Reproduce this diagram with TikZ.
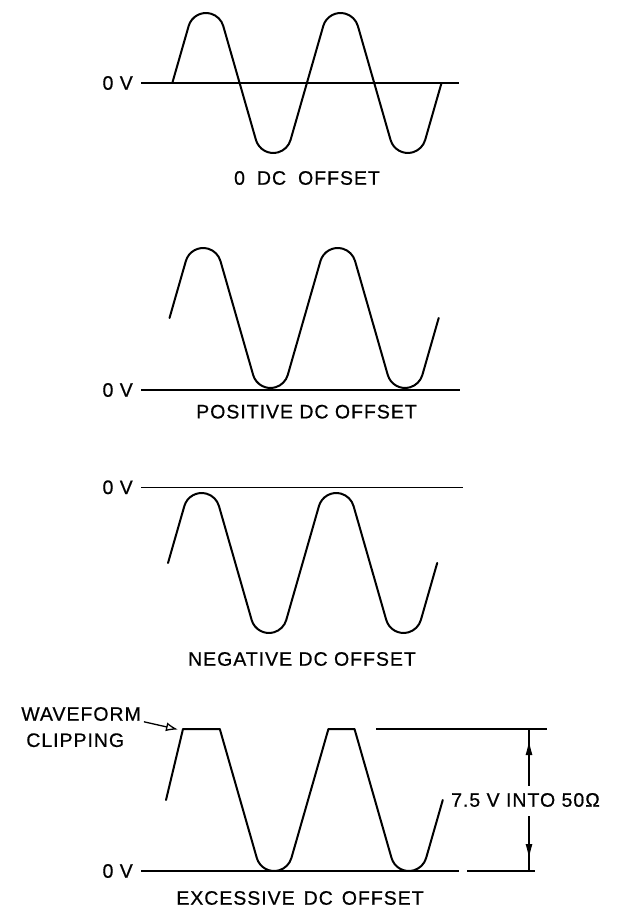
\documentclass[tikz,border=0pt]{standalone}
\usepackage{fontspec}
\setmainfont{Liberation Sans}[LetterSpace=5, FakeBold=0.6]
\usetikzlibrary{arrows.meta, positioning, calc}
\tikzset{
	wavepen/.style={line width=2pt, line join=round, line cap=round},
	axis/.style={line width=1.4pt},
	captxt/.style={font=\fontsize{19.5}{21}\selectfont, inner sep=0pt},
	zlbl/.style={captxt, anchor=east},
	arr/.style={-{Latex[open, length=12pt, width=9pt]}, line width=1.3pt, shorten <=3pt},
	dimln/.style={line width=1.3pt},
	dimarr/.style={-{Latex[length=15pt, width=7pt]}, line width=1.3pt},
	twocycles/.pic={
		\draw[wavepen] (0,0) \foreach \k in {1,2} {
			-- ++(16.35,56.97) arc[start angle=163.99, end angle=16.01, radius=18]
			-- ++(32.70,-113.93) arc[start angle=196.01, end angle=343.99, radius=18]
			-- ++(16.35,56.97)};
	},
}

\begin{document}
\begin{tikzpicture}[x=1pt, y=1pt]
	\useasboundingbox (0,0) rectangle (621,-907);

	% 0 DC offset
	\coordinate (ax1l) at (141,-83);
	\coordinate (ax1r) at (459.4,-83);
	\node[zlbl, left=8pt of ax1l] (zv1) {0 V};
	\draw[axis] (ax1l) -- (ax1r);
	\pic at (172.3,-83) {twocycles};
	\node[captxt] (cap1) at (307,-178) {0\hspace{12pt}DC\hspace{12pt}OFFSET};

	% positive offset
	\coordinate (ax2l) at (141,-390);
	\coordinate (ax2r) at (460,-390);
	\node[zlbl, left=8pt of ax2l] (zv2) {0 V};
	\draw[axis] (ax2l) -- (ax2r);
	\pic at (169.5,-318) {twocycles};
	\node[captxt] (cap2) at (306.5,-411.7) {POSITIVE DC OFFSET};

	% negative offset
	\coordinate (ax3l) at (141,-487.3);
	\coordinate (ax3r) at (463.4,-487.3);
	\node[zlbl, left=8pt of ax3l] (zv3) {0 V};
	\draw[axis] (ax3l) -- (ax3r);
	\pic at (168,-563) {twocycles};
	\node[captxt] (cap3) at (302,-659) {NEGATIVE DC OFFSET};

	% excessive offset, clipped
	\coordinate (ax4l) at (141,-871);
	\coordinate (ax4r) at (459.4,-871);
	\coordinate (ref4l) at (467,-871);
	\coordinate (ref4r) at (534.6,-871);
	\coordinate (topl) at (376,-729);
	\coordinate (topr) at (546.5,-729);
	\node[zlbl, left=8pt of ax4l] (zv4) {0 V};
	\draw[axis] (ax4l) -- (ax4r);
	\draw[axis] (ref4l) -- (ref4r);
	\draw[axis] (topl) -- (topr);
	\coordinate (clipa) at (183,-729);
	\coordinate (clipb) at (219.8,-729);
	\draw[wavepen] (166,-800) -- (clipa) -- (clipb)
		-- ++(37.01,-128.97) arc[start angle=196.01, end angle=343.99, radius=18]
		-- ++(37.01,128.97) -- ++(26.1,0)
		-- ++(37.01,-128.97) arc[start angle=196.01, end angle=343.99, radius=18]
		-- ++(16.64,57.97);
	\node[captxt] (cap4) at (300,-898) {EXCESSIVE\hspace{9pt}DC\hspace{9pt}OFFSET};

	\node[captxt, anchor=east] (wf1) at (141,-714) {WAVEFORM};
	\node[captxt, below right=12pt and 5pt of wf1.south west] (wf2) {CLIPPING};
	\coordinate (cliptip) at (178,-729.5);
	\draw[arr] (wf1.south east) -- (cliptip);

	\coordinate (dtop) at (529,-729);
	\coordinate (dbot) at (529,-871);
	\node[captxt, anchor=west] (dim) at (451,-800) {7.5 V INTO 50Ω};
	\draw[dimln] ([yshift=7pt]dim.north -| dtop) -- (dtop);
	\draw[dimarr, shorten >=11pt] ([yshift=7pt]dim.north -| dtop) -- (dtop);
	\draw[dimln] ([yshift=-9pt]dim.south -| dbot) -- (dbot);
	\draw[dimarr, shorten >=12pt] ([yshift=-9pt]dim.south -| dbot) -- (dbot);
\end{tikzpicture}
\end{document}
